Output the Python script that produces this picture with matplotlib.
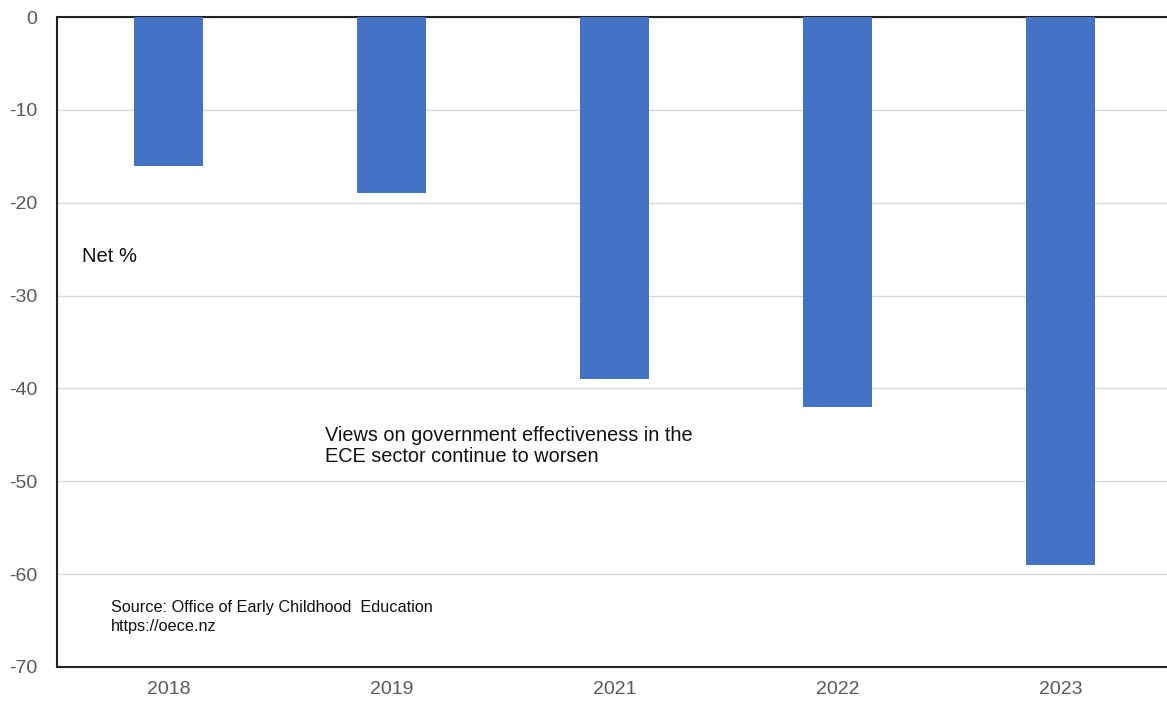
import matplotlib
matplotlib.use("Agg")
import matplotlib.pyplot as plt

plt.rcParams["font.family"] = ["Liberation Sans", "DejaVu Sans"]

years = ["2018", "2019", "2021", "2022", "2023"]
net_pct = [-16, -19, -39, -42, -59]
yticks = [0, -10, -20, -30, -40, -50, -60, -70]

BAR = "#4472C4"
TICK = "#595959"
W, H = 1167, 701

fig = plt.figure(figsize=(W / 100, H / 100), dpi=100)
ax = fig.add_axes([57 / W, 34 / H, 1115 / W, 650 / H])

x = range(len(years))
ax.bar(x, net_pct, width=0.31, color=BAR, zorder=3)

ax.set_xlim(-0.5, len(years) - 0.5)
ax.set_ylim(-70, 0)
ax.set_yticks(yticks)
ax.set_yticklabels([str(v) for v in yticks])
ax.set_xticks(list(x))
ax.set_xticklabels(years)
ax.tick_params(axis="both", length=0, labelsize=14, colors=TICK)
ax.tick_params(axis="y", pad=14)
ax.tick_params(axis="x", pad=10)
ax.grid(axis="y", color="#D9D9D9", lw=1.0, zorder=0)

for s in ("left", "bottom", "top"):
    ax.spines[s].set_color("#222222")
    ax.spines[s].set_linewidth(1.5)
ax.spines["right"].set_visible(False)


def note(px, py, s, size, ls):
    # position given in pixels from the top-left corner
    fig.text(px / W, 1 - py / H, s, fontsize=size, color="#111111",
             va="center", ha="left", linespacing=ls)


note(82, 256, "Net %", 14.5, 1.2)
note(325, 446, "Views on government effectiveness in the\nECE sector continue to worsen", 14.3, 1.1)
note(111, 617, "Source: Office of Early Childhood  Education\nhttps://oece.nz", 11.7, 1.3)

fig.savefig("out.png", dpi=100)
